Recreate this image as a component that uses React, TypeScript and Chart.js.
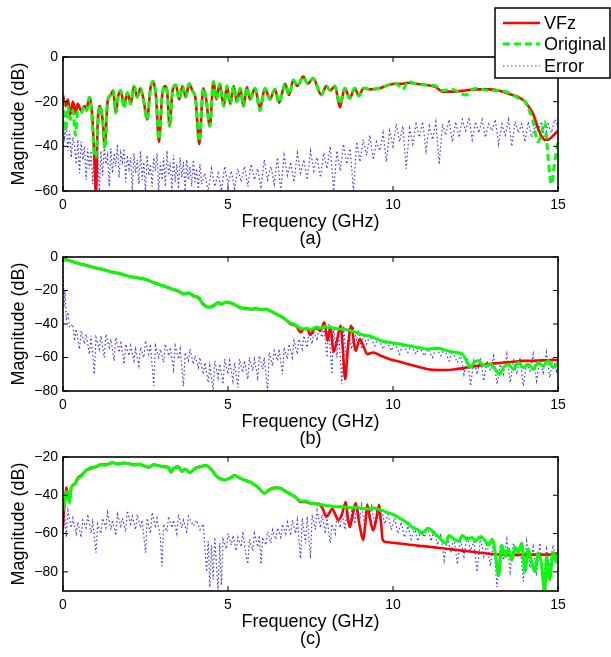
import React, { useEffect, useRef } from 'react';
import { Chart, registerables } from 'chart.js';

Chart.register(...registerables);

const FONT = "'Liberation Sans', Arial, Helvetica, sans-serif";

const xTicks = [0, 5, 10, 15];
const yTicksA = [-60, -40, -20, 0];
const yTicksB = [-80, -60, -40, -20, 0];
const yTicksC = [-80, -60, -40, -20];
const seriesNames = ['VFz', 'Original', 'Error'];
const panelLabels = ['(a)', '(b)', '(c)'];
const xTitle = 'Frequency (GHz)';
const yTitle = 'Magnitude (dB)';

// ---------- panel (a) ----------
const freqA = [0, 0.08, 0.15, 0.22, 0.3, 0.38, 0.45, 0.55, 0.65, 0.72, 0.8, 0.88, 0.95, 1.0, 1.05, 1.12, 1.2, 1.27, 1.35, 1.45, 1.52, 1.6, 1.68, 1.75, 1.85, 1.95, 2.05, 2.15, 2.25, 2.35, 2.45, 2.55, 2.65, 2.73, 2.82, 2.91, 3.0, 3.08, 3.16, 3.23, 3.32, 3.42, 3.52, 3.62, 3.72, 3.82, 3.92, 4.02, 4.13, 4.25, 4.33, 4.45, 4.56, 4.65, 4.75, 4.87, 4.97, 5.07, 5.17, 5.27, 5.37, 5.47, 5.57, 5.67, 5.82, 5.97, 6.12, 6.27, 6.42, 6.55, 6.73, 6.85, 6.98, 7.1, 7.28, 7.42, 7.58, 7.83, 7.98, 8.1, 8.24, 8.39, 8.54, 8.69, 8.84, 8.97, 9.1, 9.3, 9.6, 9.87, 10.1, 10.3, 10.45, 10.7, 11.0, 11.3, 11.5, 11.8, 12.2, 12.5, 12.9, 13.2, 13.5, 13.8, 14.0, 14.1, 14.23, 14.4, 14.5, 14.6, 14.7, 14.8, 14.9, 15.0];
const vfzA = [-17, -22, -19, -26, -20, -25, -21, -24, -22, -23, -18, -25, -45, -62, -30, -22, -28, -40, -20, -17, -15, -25, -17, -15, -22, -16, -21, -13, -18, -14, -20, -28, -14, -11, -18, -38, -18, -13, -16, -31, -15, -12.5, -19, -13, -18, -12, -15, -19, -39, -14, -18, -31, -11, -19, -12, -22, -13, -21, -13, -20, -14, -22, -13.5, -19, -14, -23, -14, -19, -14.5, -20.5, -12, -17, -10.3, -13, -8.8, -12, -9.5, -17, -13, -15, -13, -22.5, -14, -18.5, -14, -17.5, -14, -14.5, -14, -12.5, -12, -12, -11.5, -12, -12.5, -13.5, -15.5, -15.5, -15, -14.5, -14.5, -15, -16.5, -18, -20, -22, -25, -32, -35.5, -37, -37, -36, -34.5, -33];
const origA = [-19, -33, -22, -28, -24, -35, -24, -25, -22, -24, -18, -28, -44, -45, -32, -22, -28, -41, -20, -17, -15, -25, -17, -15, -23, -16, -21, -13, -18, -14, -20, -28, -14, -11, -18, -37, -18, -13, -16, -31, -15, -12.5, -19, -13, -18, -12, -15, -19, -38, -14, -18, -31, -11, -19, -12, -22, -13, -21, -13, -20, -14, -22, -13.5, -19, -14, -24, -14, -19, -14.5, -20.5, -12, -17, -10.3, -13, -8.8, -12, -9.5, -17, -13, -15, -13, -21, -14, -18.5, -14, -17.5, -14, -14.5, -14, -12.5, -12, -14.5, -11, -12, -12.5, -13, -15, -14.5, -17, -14, -15, -15, -16, -18.5, -20, -23, -28, -38, -34, -29, -45, -57, -47, -38];
const errFreqA = [0, 0.05, 0.1, 0.15, 0.2, 0.25, 0.3, 0.35, 0.4, 0.45, 0.5, 0.55, 0.6, 0.65, 0.7, 0.75, 0.8, 0.85, 0.9, 0.95, 1.0, 1.05, 1.1, 1.15, 1.2, 1.25, 1.3, 1.35, 1.4, 1.45, 1.5, 1.55, 1.6, 1.65, 1.7, 1.75, 1.8, 1.85, 1.9, 1.95, 2.0, 2.05, 2.1, 2.15, 2.2, 2.25, 2.3, 2.35, 2.4, 2.45, 2.5, 2.55, 2.6, 2.65, 2.7, 2.75, 2.8, 2.85, 2.9, 2.95, 3.0, 3.05, 3.1, 3.15, 3.2, 3.25, 3.3, 3.35, 3.4, 3.45, 3.5, 3.55, 3.6, 3.65, 3.7, 3.75, 3.8, 3.85, 3.9, 3.95, 4.0, 4.05, 4.1, 4.15, 4.2, 4.3, 4.4, 4.5, 4.6, 4.7, 4.8, 4.9, 5.0, 5.1, 5.2, 5.3, 5.4, 5.5, 5.6, 5.7, 5.8, 5.9, 6.0, 6.1, 6.2, 6.3, 6.4, 6.5, 6.6, 6.7, 6.8, 6.9, 7.0, 7.1, 7.2, 7.3, 7.4, 7.5, 7.6, 7.7, 7.8, 7.9, 8.0, 8.1, 8.2, 8.3, 8.4, 8.5, 8.6, 8.7, 8.8, 8.9, 9.0, 9.1, 9.2, 9.3, 9.4, 9.5, 9.6, 9.7, 9.8, 9.9, 10.0, 10.1, 10.2, 10.3, 10.4, 10.5, 10.6, 10.7, 10.8, 10.9, 11.0, 11.1, 11.2, 11.3, 11.4, 11.5, 11.6, 11.7, 11.8, 11.9, 12.0, 12.1, 12.2, 12.3, 12.4, 12.5, 12.6, 12.7, 12.8, 12.9, 13.0, 13.1, 13.2, 13.3, 13.4, 13.5, 13.6, 13.7, 13.8, 13.9, 14.0, 14.1, 14.2, 14.3, 14.4, 14.5, 14.6, 14.7, 14.8, 14.9, 15.0];
const errA = [-27, -36, -30, -42, -33, -45, -36, -40, -48, -37, -52, -38, -46, -40, -55, -41, -50, -42, -57, -38, -50, -43, -60, -42, -53, -40, -48, -44, -58, -41, -52, -43, -49, -39, -54, -43, -47, -41, -56, -44, -50, -45, -60, -43, -52, -46, -57, -42, -55, -47, -60, -44, -53, -48, -58, -45, -51, -43, -60, -47, -55, -45, -58, -42, -53, -47, -60, -44, -56, -48, -59, -45, -54, -47, -60, -46, -55, -49, -58, -46, -56, -50, -60, -48, -57, -52, -60, -50, -58, -52, -60, -49, -57, -51, -59, -50, -56, -49, -58, -48, -55, -50, -59, -46, -55, -49, -57, -45, -60, -44, -53, -47, -56, -43, -52, -46, -55, -42, -51, -45, -54, -43, -50, -40, -60, -42, -51, -39, -48, -41, -60, -38, -47, -37, -44, -35, -46, -38, -42, -34, -47, -33, -40, -30, -38, -31, -50, -32, -39, -30, -36, -29, -42, -31, -37, -29, -48, -30, -35, -28, -38, -29, -36, -28, -33, -27, -37, -29, -34, -28, -36, -30, -33, -28, -39, -30, -35, -28, -40, -29, -34, -30, -38, -29, -36, -31, -33, -29, -37, -30, -34, -28, -31];

// ---------- panel (b) ----------
const freqB = [0, 0.02, 0.25, 0.5, 0.75, 1.0, 1.25, 1.5, 1.75, 2.0, 2.25, 2.5, 2.75, 3.0, 3.25, 3.5, 3.65, 3.8, 3.95, 4.1, 4.25, 4.4, 4.55, 4.7, 4.8, 4.95, 5.1, 5.25, 5.4, 5.55, 5.7, 5.85, 6.0, 6.15, 6.3, 6.45, 6.6, 6.75, 6.9, 7.0, 7.1, 7.2, 7.3, 7.4, 7.5, 7.6, 7.7, 7.8, 7.92, 8.02, 8.1, 8.2, 8.3, 8.41, 8.48, 8.55, 8.63, 8.73, 8.87, 8.99, 9.1, 9.22, 9.4, 9.63, 9.9, 10.2, 10.46, 10.75, 11.05, 11.35, 11.64, 11.9, 12.1, 12.23, 12.35, 12.45, 12.58, 12.7, 12.82, 12.95, 13.1, 13.23, 13.35, 13.5, 13.65, 13.8, 13.95, 14.1, 14.25, 14.4, 14.55, 14.7, 14.85, 15.0];
const vfzB = [-3, -1, -2.5, -4, -5.2, -6.5, -7.8, -9, -10.2, -11.5, -12.4, -13.5, -15.2, -17, -18.6, -20.5, -22, -21.5, -23, -24.5, -28, -30, -29, -27.5, -28, -27, -27.5, -29, -30.5, -30.5, -31.2, -31, -31.5, -31, -32.3, -34, -35.5, -37.5, -40, -40.5, -42, -45, -43, -43, -46.5, -43, -42.5, -44, -39, -50, -41.5, -56.5, -50, -41, -55, -73, -55, -41, -56, -49, -53, -58, -57, -59, -61, -62.5, -64, -65.5, -67, -67.5, -67.5, -67, -66.5, -66, -65.5, -65.3, -65, -64.5, -64, -63.8, -63.5, -63.3, -63, -62.8, -62.5, -62.3, -62, -62, -62, -61.8, -61.7, -61.6, -61.5, -61.5];
const origB = [-0.5, -1, -2.5, -4, -5.3, -6.5, -7.7, -9.2, -10, -11.6, -12.4, -13.3, -15.4, -17, -18.8, -20.3, -22.2, -21.3, -23.5, -24, -28.5, -30, -29.5, -27.2, -28.3, -26.8, -27.6, -29, -30.2, -31, -31, -30.7, -31.4, -31.2, -32.5, -33.8, -35.5, -37.3, -39.5, -40, -41.5, -42.5, -43, -42.5, -43.5, -42.5, -42, -42.5, -41.5, -42, -42, -42.5, -42.8, -43, -43, -43.2, -43.5, -44, -45, -46, -46.5, -47, -48, -50, -51, -52, -53, -54, -55, -54.5, -56, -57, -58, -62, -66, -63, -62, -64, -65, -64, -67, -70, -66, -64, -67, -63, -66, -64, -67, -63, -65, -62, -66, -63];
const errFreqB = [0, 0.03, 0.06, 0.1, 0.15, 0.2, 0.3, 0.35, 0.4, 0.5, 0.55, 0.65, 0.7, 0.8, 0.85, 0.95, 1.0, 1.1, 1.15, 1.25, 1.3, 1.4, 1.45, 1.55, 1.6, 1.7, 1.75, 1.85, 1.9, 2.0, 2.05, 2.15, 2.2, 2.3, 2.35, 2.45, 2.5, 2.6, 2.65, 2.75, 2.8, 2.9, 2.95, 3.05, 3.1, 3.2, 3.25, 3.35, 3.4, 3.5, 3.55, 3.65, 3.7, 3.8, 3.85, 3.95, 4.0, 4.1, 4.15, 4.25, 4.3, 4.4, 4.45, 4.55, 4.6, 4.7, 4.75, 4.85, 4.9, 5.0, 5.05, 5.15, 5.2, 5.3, 5.35, 5.45, 5.5, 5.6, 5.65, 5.75, 5.8, 5.9, 5.95, 6.05, 6.1, 6.2, 6.25, 6.35, 6.4, 6.5, 6.55, 6.65, 6.7, 6.8, 6.85, 6.95, 7.0, 7.1, 7.15, 7.25, 7.3, 7.4, 7.45, 7.55, 7.6, 7.7, 7.75, 7.85, 7.9, 8.0, 8.05, 8.15, 8.2, 8.3, 8.35, 8.45, 8.5, 8.6, 8.65, 8.75, 8.8, 8.9, 8.95, 9.05, 9.1, 9.2, 9.3, 9.45, 9.55, 9.7, 9.8, 9.95, 10.05, 10.2, 10.3, 10.45, 10.55, 10.7, 10.8, 10.95, 11.05, 11.2, 11.3, 11.45, 11.55, 11.7, 11.8, 11.95, 12.05, 12.15, 12.25, 12.35, 12.45, 12.55, 12.65, 12.75, 12.85, 12.95, 13.05, 13.15, 13.25, 13.35, 13.45, 13.55, 13.65, 13.75, 13.85, 13.95, 14.05, 14.15, 14.25, 14.35, 14.45, 14.55, 14.65, 14.75, 14.85, 14.95, 15.0];
const errB = [-2, -30, -20, -38, -33, -42, -40, -50, -43, -55, -44, -52, -46, -58, -47, -70, -48, -55, -47, -60, -46, -54, -49, -62, -48, -57, -50, -64, -52, -59, -53, -62, -55, -65, -54, -60, -50, -58, -52, -77, -53, -60, -55, -63, -52, -59, -54, -67, -53, -61, -55, -77, -57, -62, -55, -64, -59, -66, -60, -70, -63, -75, -65, -80, -62, -72, -64, -76, -61, -70, -62, -74, -63, -78, -61, -69, -62, -73, -60, -68, -61, -72, -59, -67, -60, -80, -57, -65, -56, -62, -55, -70, -54, -61, -52, -60, -50, -58, -49, -55, -47, -54, -45, -52, -44, -50, -43, -48, -41, -60, -40, -70, -42, -60, -44, -76, -41, -65, -45, -55, -42, -50, -44, -55, -46, -52, -47, -53, -48, -55, -50, -56, -51, -58, -52, -57, -53, -58, -54, -59, -55, -60, -54, -59, -55, -62, -56, -63, -58, -70, -60, -77, -62, -70, -60, -74, -62, -68, -59, -76, -64, -70, -58, -75, -62, -70, -60, -77, -63, -68, -58, -74, -61, -69, -57, -72, -60, -68, -62];

// ---------- panel (c) ----------
const freqC = [0, 0.02, 0.05, 0.1, 0.15, 0.2, 0.25, 0.35, 0.45, 0.55, 0.7, 0.85, 1.0, 1.15, 1.3, 1.5, 1.7, 1.85, 2.0, 2.15, 2.3, 2.45, 2.6, 2.75, 2.9, 3.05, 3.2, 3.27, 3.35, 3.5, 3.6, 3.7, 3.85, 4.0, 4.15, 4.33, 4.5, 4.65, 4.8, 4.9, 5.05, 5.2, 5.35, 5.5, 5.65, 5.8, 5.95, 6.1, 6.25, 6.45, 6.6, 6.75, 6.9, 7.05, 7.2, 7.35, 7.5, 7.65, 7.75, 7.87, 7.98, 8.08, 8.16, 8.25, 8.34, 8.45, 8.57, 8.63, 8.69, 8.78, 8.87, 8.98, 9.1, 9.16, 9.22, 9.3, 9.4, 9.5, 9.58, 9.64, 9.69, 9.75, 10.0, 10.2, 10.4, 10.6, 10.75, 10.87, 11.0, 11.1, 11.25, 11.4, 11.5, 11.6, 11.7, 11.85, 12.0, 12.1, 12.25, 12.4, 12.5, 12.65, 12.8, 12.9, 13.0, 13.1, 13.2, 13.3, 13.4, 13.5, 13.6, 13.7, 13.8, 13.9, 14.0, 14.1, 14.2, 14.3, 14.4, 14.5, 14.6, 14.65, 14.75, 14.85, 14.95, 15.0];
const vfzC = [-57, -50, -45, -36, -40, -43, -36, -34, -31, -29.5, -27, -26, -25, -24, -24, -23, -23.5, -23, -23.5, -24, -23.8, -24.5, -25.5, -24, -24.5, -25, -25.5, -28, -26, -25, -27.5, -26.5, -28, -26, -25, -24.5, -26.5, -30, -31.5, -32, -31, -29.5, -31, -32, -33, -34.5, -36.5, -39, -37, -36, -36.5, -38, -39.5, -41, -43.5, -43.5, -44.3, -44.5, -44.5, -47, -51.3, -49, -47, -50, -53, -50, -43.5, -52, -56.6, -50, -44, -55, -63.4, -55, -44.8, -52, -58.4, -52, -45, -55, -63.4, -64.3, -64.8, -65.2, -65.6, -66, -66.3, -66.5, -66.7, -66.9, -67.2, -67.5, -67.7, -67.9, -68.1, -68.4, -68.7, -68.9, -69.2, -69.5, -69.7, -70, -70.3, -70.5, -70.7, -70.8, -70.9, -71, -71.1, -71.2, -71.2, -71.2, -71.2, -71.1, -71, -71, -71, -71, -71, -71, -71, -71, -71, -70.5, -70.5, -70.5];
const origC = [-48, -46, -44, -38, -40, -44, -36, -34.5, -31.5, -30, -27, -25.5, -25.2, -24, -24.3, -23, -23.8, -23.2, -23.5, -24.3, -23.6, -24.8, -25.2, -24.2, -24.5, -25.2, -25.3, -28, -26, -25.3, -27.5, -26.3, -28.2, -26, -25.3, -24.5, -26.8, -30, -31.8, -32, -31.2, -29.8, -30.8, -32.2, -33, -34.3, -36.7, -38.8, -37.3, -36.2, -36.3, -38, -39.5, -41, -43, -43, -44, -44.5, -45, -45, -45.5, -45.5, -45.8, -46, -46, -46, -46.2, -46.3, -46.5, -46.5, -46.2, -46.5, -47, -47, -47.2, -47, -46.5, -47, -47.5, -48, -48, -48.5, -50, -52, -54, -57, -58, -60, -58, -57.5, -60, -62, -64, -65, -61, -63, -64, -61, -63, -62, -64, -61.5, -64, -66, -63, -70, -82, -66, -72, -68, -74, -67, -70, -65, -80, -68, -75, -80, -70, -76, -91, -72, -84, -70, -75, -70];
const errFreqC = [0, 0.05, 0.1, 0.15, 0.25, 0.3, 0.4, 0.45, 0.55, 0.6, 0.7, 0.75, 0.85, 0.9, 1.0, 1.05, 1.15, 1.2, 1.3, 1.35, 1.45, 1.5, 1.6, 1.65, 1.75, 1.8, 1.9, 1.95, 2.05, 2.1, 2.2, 2.25, 2.35, 2.4, 2.5, 2.55, 2.65, 2.7, 2.8, 2.85, 2.95, 3.0, 3.05, 3.15, 3.2, 3.3, 3.35, 3.45, 3.5, 3.6, 3.65, 3.75, 3.8, 3.95, 4.05, 4.15, 4.25, 4.35, 4.4, 4.45, 4.5, 4.55, 4.6, 4.7, 4.75, 4.8, 4.85, 4.95, 5.0, 5.1, 5.15, 5.25, 5.3, 5.4, 5.45, 5.55, 5.6, 5.65, 5.75, 5.8, 5.9, 5.95, 6.0, 6.05, 6.15, 6.2, 6.3, 6.35, 6.45, 6.5, 6.6, 6.65, 6.75, 6.8, 6.9, 6.95, 7.05, 7.1, 7.2, 7.25, 7.35, 7.4, 7.5, 7.55, 7.65, 7.7, 7.8, 7.85, 7.95, 8.0, 8.1, 8.15, 8.25, 8.3, 8.4, 8.45, 8.55, 8.6, 8.7, 8.75, 8.85, 8.9, 9.0, 9.05, 9.15, 9.2, 9.3, 9.35, 9.45, 9.5, 9.6, 9.65, 9.75, 9.85, 9.95, 10.05, 10.15, 10.25, 10.35, 10.45, 10.55, 10.65, 10.75, 10.85, 10.95, 11.05, 11.15, 11.25, 11.35, 11.45, 11.55, 11.65, 11.75, 11.85, 11.95, 12.05, 12.15, 12.25, 12.35, 12.45, 12.55, 12.65, 12.75, 12.85, 12.95, 13.05, 13.15, 13.25, 13.35, 13.45, 13.55, 13.65, 13.75, 13.85, 13.95, 14.05, 14.15, 14.25, 14.35, 14.45, 14.55, 14.65, 14.75, 14.85, 14.95, 15.0];
const errC = [-60, -50, -62, -48, -57, -52, -60, -54, -62, -53, -57, -50, -60, -54, -70, -55, -60, -52, -57, -49, -58, -53, -61, -50, -56, -52, -59, -48, -55, -51, -58, -50, -57, -53, -70, -52, -60, -49, -56, -52, -62, -77, -55, -59, -51, -57, -53, -60, -50, -57, -53, -59, -51, -56, -53, -58, -55, -80, -64, -88, -66, -84, -62, -90, -65, -87, -63, -68, -60, -66, -61, -69, -62, -67, -59, -72, -76, -63, -69, -60, -67, -61, -76, -62, -66, -59, -65, -58, -63, -57, -62, -55, -60, -54, -61, -53, -60, -53, -73, -52, -65, -51, -73, -50, -58, -48, -57, -50, -60, -52, -65, -55, -60, -51, -57, -49, -58, -46, -56, -47, -55, -46, -52, -45, -57, -47, -53, -46, -55, -48, -52, -47, -55, -50, -58, -52, -60, -54, -62, -56, -63, -57, -64, -58, -62, -56, -64, -58, -66, -60, -74, -61, -70, -62, -76, -63, -72, -61, -69, -64, -80, -62, -72, -65, -77, -64, -88, -66, -74, -63, -80, -65, -72, -66, -85, -64, -78, -67, -82, -65, -90, -68, -77, -66, -74, -70];

const pts = (xs: number[], ys: number[]) => xs.map((x, i) => ({ x, y: ys[i] }));
const minusLabel = (v: number | string) => String(v).replace('-', '\u2212');

const COLORS = { vfz: '#ff0000', orig: '#00ff00', err: '#0000ff' };

const boxPlugin = {
  id: 'matlabBox',
  afterDatasetsDraw(chart: any) {
    const { ctx, chartArea, scales } = chart;
    const { left, right, top, bottom } = chartArea;
    ctx.save();
    ctx.strokeStyle = '#000';
    ctx.lineWidth = 1;
    ctx.beginPath();
    for (const t of scales.x.ticks) {
      const px = scales.x.getPixelForValue(t.value);
      ctx.moveTo(px, bottom);
      ctx.lineTo(px, bottom - 5);
      ctx.moveTo(px, top);
      ctx.lineTo(px, top + 5);
    }
    for (const t of scales.y.ticks) {
      const py = scales.y.getPixelForValue(t.value);
      ctx.moveTo(left, py);
      ctx.lineTo(left + 5, py);
      ctx.moveTo(right, py);
      ctx.lineTo(right - 5, py);
    }
    ctx.stroke();
    ctx.lineWidth = 1.6;
    ctx.strokeRect(left, top, right - left, bottom - top);
    ctx.restore();
  },
};

const legendPlugin = {
  id: 'matlabLegend',
  afterDraw(chart: any) {
    const { ctx } = chart;
    const ds = chart.data.datasets;
    ctx.save();
    ctx.fillStyle = '#fff';
    ctx.fillRect(495, 8, 115, 70);
    ctx.strokeStyle = '#000';
    ctx.lineWidth = 1.5;
    ctx.strokeRect(495, 8, 115, 70);
    const rows = [23, 44, 66];
    ds.forEach((d: any, i: number) => {
      const y = rows[i];
      ctx.beginPath();
      ctx.setLineDash(d.borderDash || []);
      ctx.strokeStyle = d.borderColor;
      ctx.lineWidth = d.borderWidth;
      ctx.moveTo(503, y);
      ctx.lineTo(540, y);
      ctx.stroke();
      ctx.setLineDash([]);
      ctx.fillStyle = '#000';
      ctx.font = `18px ${FONT}`;
      ctx.textBaseline = 'middle';
      ctx.textAlign = 'left';
      ctx.fillText(d.label, 544, y + 1);
    });
    ctx.restore();
  },
};

type PanelProps = {
  top: number;
  freq: number[];
  vfz: number[];
  orig: number[];
  errFreq: number[];
  err: number[];
  yMin: number;
  yMax: number;
  yTicks: number[];
  label: string;
  legend: boolean;
  origDash: number[];
};

function Panel(p: PanelProps) {
  const ref = useRef<HTMLCanvasElement | null>(null);
  useEffect(() => {
    if (!ref.current) return;
    const tickFont = { family: FONT, size: 14 };
    const chart = new Chart(ref.current, {
      type: 'line',
      data: {
        datasets: [
          { label: seriesNames[0], data: pts(p.freq, p.vfz), borderColor: COLORS.vfz, borderWidth: 2.6, pointRadius: 0, order: 2, clip: 0, cubicInterpolationMode: 'monotone' } as any,
          { label: seriesNames[1], data: pts(p.freq, p.orig), borderColor: COLORS.orig, borderWidth: 3, borderDash: p.origDash, pointRadius: 0, order: 1, clip: 0, cubicInterpolationMode: 'monotone' } as any,
          { label: seriesNames[2], data: pts(p.errFreq, p.err), borderColor: 'rgba(0,0,255,0.8)', borderWidth: 1.2, borderDash: [1.5, 2.5], pointRadius: 0, order: 3, clip: 0 } as any,
        ],
      },
      options: {
        responsive: false,
        animation: false,
        devicePixelRatio: 1,
        layout: { padding: { top: 57, right: 53, left: 0, bottom: 0 } },
        plugins: { legend: { display: false }, tooltip: { enabled: false } },
        elements: { line: { tension: 0 } },
        scales: {
          x: {
            type: 'linear',
            min: 0,
            max: 15,
            afterBuildTicks: (s: any) => { s.ticks = xTicks.map((v) => ({ value: v })); },
            afterFit: (s: any) => { s.height = 59; },
            grid: { display: false, drawTicks: false },
            border: { display: false },
            ticks: { font: tickFont, color: '#000', padding: 6, maxRotation: 0, autoSkip: false },
            title: { display: true, text: [xTitle, p.label], color: '#000', font: { family: FONT, size: 18, lineHeight: '17px' }, padding: { top: 0, bottom: 2 } },
          },
          y: {
            type: 'linear',
            min: p.yMin,
            max: p.yMax,
            afterBuildTicks: (s: any) => { s.ticks = p.yTicks.map((v) => ({ value: v })); },
            afterFit: (s: any) => { s.width = 63; },
            grid: { display: false, drawTicks: false },
            border: { display: false },
            ticks: { font: tickFont, color: '#000', padding: 5, callback: (v: any) => minusLabel(v) },
            title: { display: true, text: yTitle, color: '#000', font: { family: FONT, size: 18, lineHeight: 1.2 }, padding: { top: 8, bottom: 0 } },
          },
        },
      } as any,
      plugins: p.legend ? [boxPlugin, legendPlugin] : [boxPlugin],
    });
    return () => chart.destroy();
  }, []);
  return (
    <canvas
      ref={ref}
      width={611}
      height={250}
      style={{ position: 'absolute', left: 0, top: p.top, width: 611, height: 250 }}
    />
  );
}

export default function App() {
  return (
    <div style={{ position: 'absolute', left: 0, top: 0, width: 611, height: 657, background: '#fff', overflow: 'hidden' }}>
      <Panel top={0} freq={freqA} vfz={vfzA} orig={origA} errFreq={errFreqA} err={errA} yMin={-60} yMax={0} yTicks={yTicksA} label={panelLabels[0]} legend={true} origDash={[7, 4]} />
      <Panel top={200} freq={freqB} vfz={vfzB} orig={origB} errFreq={errFreqB} err={errB} yMin={-80} yMax={0} yTicks={yTicksB} label={panelLabels[1]} legend={false} origDash={[]} />
      <Panel top={400} freq={freqC} vfz={vfzC} orig={origC} errFreq={errFreqC} err={errC} yMin={-90} yMax={-20} yTicks={yTicksC} label={panelLabels[2]} legend={false} origDash={[]} />
    </div>
  );
}
